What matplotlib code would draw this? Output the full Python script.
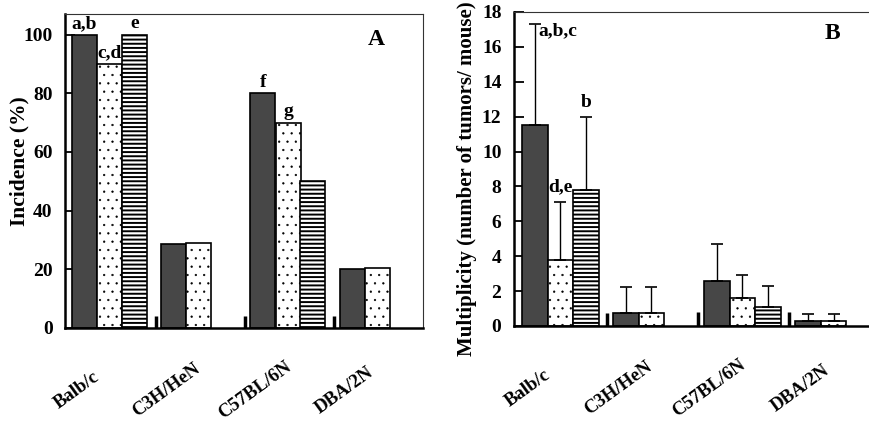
# Incidencia y multiplicidad de tumores por cepa de ratón (paneles A y B)
import numpy as np
import matplotlib
matplotlib.use('Agg')
import matplotlib.pyplot as plt

# Datos
strains = ['Balb/c', 'C3H/HeN', 'C57BL/6N', 'DBA/2N']

# Panel A: incidencia (%)
inc_dark = [100, 28.6, 80, 20]
inc_dot = [90, 29, 70, 20.5]
inc_stripe = [100, None, 50, None]
inc_ctrl = [0, 4, 4, 4]          # pequeñas marcas del grupo control
inc_notes = [('a,b', 'c,d', 'e'), ('', '', ''), ('f', 'g', ''), ('', '', '')]

# Panel B: multiplicidad (tumores / ratón) con desviación
mul_dark = [11.5, 0.75, 2.6, 0.3]
mul_dark_sd = [5.8, 1.5, 2.1, 0.4]
mul_dot = [3.8, 0.75, 1.6, 0.3]
mul_dot_sd = [3.3, 1.5, 1.3, 0.4]
mul_stripe = [7.8, None, 1.1, None]
mul_stripe_sd = [4.2, None, 1.2, None]
mul_ctrl = [0, 0.75, 0.8, 0.8]

plt.rcParams['font.family'] = ['Liberation Serif', 'DejaVu Serif']
plt.rcParams['font.weight'] = 'bold'

GAP = 3.57
pos = np.arange(len(strains)) * GAP

# color, trama y grosor de trama de cada serie
estilos = [dict(facecolor='#474747', hatch=None, hlw=1.0),
           dict(facecolor='white', hatch='..', hlw=0.4),
           dict(facecolor='white', hatch='----', hlw=1.4)]


def dibujar_barras(ax, series, sds=None):
    for k, vals in enumerate(series):
        xs = [p + k for p, v in zip(pos, vals) if v is not None]
        ys = [v for v in vals if v is not None]
        est = estilos[k]
        with plt.rc_context({'hatch.linewidth': est['hlw']}):
            barras = ax.bar(xs, ys, width=1.0, edgecolor='black', linewidth=1.2,
                            facecolor=est['facecolor'], hatch=est['hatch'], zorder=2)
        for b in barras:
            if hasattr(b, 'set_hatch_linewidth'):
                b.set_hatch_linewidth(est['hlw'])
        if sds is not None:
            err = [s for s in sds[k] if s is not None]
            ax.errorbar(xs, ys, yerr=[np.zeros(len(err)), err], fmt='none',
                        ecolor='black', elinewidth=1.0, capsize=4,
                        capthick=1.2, zorder=3)


def estilo_ejes(ax, yticks, ylim):
    ax.set_ylim(*ylim)
    ax.set_yticks(yticks)
    ax.set_yticklabels([str(t) for t in yticks], fontsize=14, fontweight='bold')
    ax.tick_params(axis='y', direction='in', length=7, width=1.3, pad=9)
    ax.set_xticks(pos - 0.3)
    ax.set_xticklabels(strains, rotation=36, ha='center', va='center',
                       fontsize=13.5, fontweight='bold')
    ax.tick_params(axis='x', length=0, pad=45)
    for s in ['left', 'bottom']:
        ax.spines[s].set_linewidth(1.8)
    for s in ['top', 'right']:
        ax.spines[s].set_linewidth(0.8)
        ax.spines[s].set_color('#333333')


fig = plt.figure(figsize=(8.7, 4.21), dpi=100)

# ---------- Panel A ----------
axA = fig.add_axes([65 / 870, 1 - 328 / 421, 358 / 870, 314 / 421])
dibujar_barras(axA, [inc_dark, inc_dot, inc_stripe])
axA.vlines(pos[1:] - 0.72, 0, inc_ctrl[1:], color='black', linewidth=2.5, zorder=2)
axA.set_xlim(-0.78, -0.78 + 358 / 25)
estilo_ejes(axA, [0, 20, 40, 60, 80, 100], (0, 107))
axA.set_ylabel('Incidence (%)', fontsize=15.5, fontweight='bold', va='center')
axA.yaxis.set_label_coords(-0.126, 0.53)

for i, notas in enumerate(inc_notes):
    for k, nota in enumerate(notas):
        if nota:
            v = [inc_dark, inc_dot, inc_stripe][k][i]
            axA.text(pos[i] + k, v + 0.8, nota, ha='center', va='bottom',
                     fontsize=14, fontweight='bold', zorder=4)
axA.text(0.87, 0.92, 'A', transform=axA.transAxes, ha='center', va='center',
         fontsize=17, fontweight='bold')

# ---------- Panel B ----------
axB = fig.add_axes([514 / 870, 1 - 326 / 421, 366 / 870, 314 / 421])
dibujar_barras(axB, [mul_dark, mul_dot, mul_stripe],
               [mul_dark_sd, mul_dot_sd, mul_stripe_sd])
axB.vlines(pos[1:] - 0.75, 0, mul_ctrl[1:], color='black', linewidth=2.5, zorder=2)
axB.set_xlim(-0.82, -0.82 + 366 / 25.5)
estilo_ejes(axB, list(range(0, 19, 2)), (0, 18))
axB.set_ylabel('Multiplicity (number of tumors/ mouse)', fontsize=15,
               fontweight='bold', va='center')
axB.yaxis.set_label_coords(-0.128, 0.47)

top_dark = mul_dark[0] + mul_dark_sd[0]
axB.text(pos[0] + 0.12, top_dark + 0.1, 'a,b,c', ha='left', va='top',
         fontsize=14, fontweight='bold')
axB.text(pos[0] + 1, mul_dot[0] + mul_dot_sd[0] + 0.4, 'd,e', ha='center',
         va='bottom', fontsize=14, fontweight='bold')
axB.text(pos[0] + 2, mul_stripe[0] + mul_stripe_sd[0] + 0.3, 'b', ha='center',
         va='bottom', fontsize=14, fontweight='bold')
axB.text(0.87, 0.933, 'B', transform=axB.transAxes, ha='center', va='center',
         fontsize=17, fontweight='bold')

fig.savefig('out.png', dpi=100)
